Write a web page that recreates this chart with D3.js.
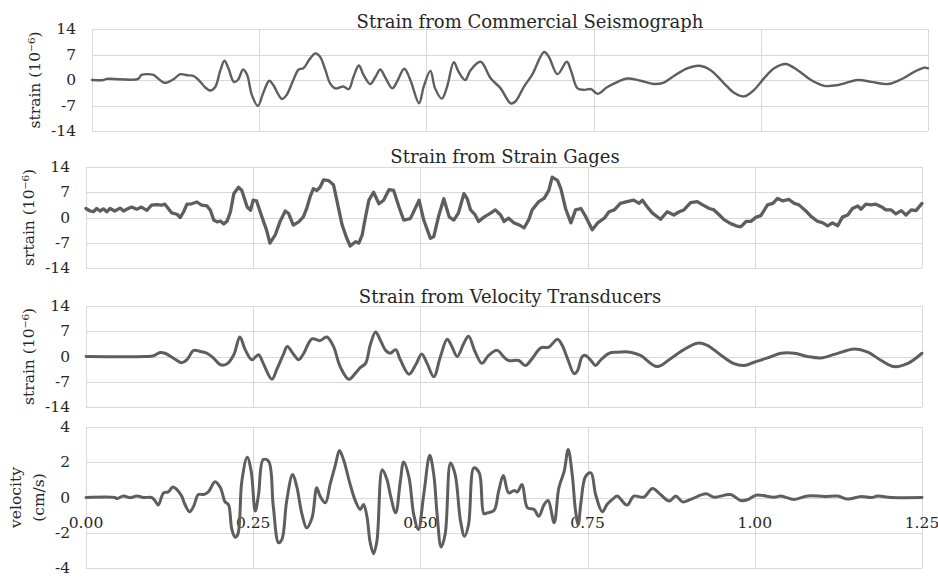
<!DOCTYPE html>
<html><head><meta charset="utf-8">
<script src="https://cdn.jsdelivr.net/npm/d3@7"></script>
<style>
body{margin:0;background:#fff;}
text{font-family:"DejaVu Serif","Liberation Serif",serif;fill:#262626;}
</style></head>
<body><svg id="c" width="938" height="578"></svg>
<script>
// ---- data: [time (s), value] ----
const titles = ["Strain from Commercial Seismograph","Strain from Strain Gages","Strain from Velocity Transducers",""];
const yTitles = [["strain (10\u207B\u2076)"],["srtain (10\u207B\u2076)"],["strain (10\u207B\u2076)"],["velocity","(cm/s)"]];
const strainTicks = [-14,-7,0,7,14];
const velTicks = [-4,-2,0,2,4];
const timeTicks = [0,0.25,0.5,0.75,1.0,1.25];

const seis = [[0,0],[0.017,0],[0.022,0.3],[0.069,0.3],[0.074,1.4],[0.092,1.4],[0.097,0.7],[0.107,-0.7],[0.112,-0.7],[0.122,0.2],[0.132,1.6],[0.142,1.3],[0.152,1.1],[0.162,-0.5],[0.169,-2.0],[0.177,-2.9],[0.184,-2.0],[0.192,2.7],[0.198,5.3],[0.204,3.2],[0.212,-0.5],[0.218,0],[0.226,2.9],[0.232,1.4],[0.239,-4.1],[0.248,-7.1],[0.256,-3.6],[0.265,-0.2],[0.271,-1.4],[0.284,-5.2],[0.291,-4.1],[0.301,0],[0.309,2.9],[0.316,3.2],[0.325,5.6],[0.334,7.3],[0.341,6.4],[0.349,2.7],[0.356,-0.9],[0.364,-2.3],[0.371,-2.0],[0.376,-1.8],[0.384,-2.5],[0.391,0.9],[0.399,4.0],[0.406,1.4],[0.416,-1.1],[0.424,0.9],[0.431,2.9],[0.439,0.5],[0.449,-2.3],[0.456,-0.5],[0.467,3.1],[0.476,0],[0.489,-6.4],[0.496,-1.8],[0.506,2.5],[0.513,-2.3],[0.523,-5.1],[0.531,-1.8],[0.541,4.9],[0.548,2.3],[0.558,0],[0.566,2.7],[0.581,5.0],[0.596,0.5],[0.611,-2.3],[0.626,-6.4],[0.633,-5.9],[0.646,-1.8],[0.658,1.4],[0.676,7.7],[0.683,6.4],[0.696,1.6],[0.710,5.0],[0.716,2.7],[0.726,-2.3],[0.736,-2.7],[0.746,-2.5],[0.756,-3.8],[0.770,-2.0],[0.786,-0.5],[0.800,0.4],[0.820,-0.2],[0.840,-1.1],[0.855,-0.7],[0.870,1.1],[0.890,3.2],[0.908,3.9],[0.925,2.7],[0.945,-0.9],[0.960,-3.5],[0.975,-4.5],[0.990,-2.7],[1.005,0.5],[1.020,3.2],[1.037,4.4],[1.055,2.7],[1.075,0],[1.095,-1.6],[1.115,-1.4],[1.145,0],[1.165,-0.5],[1.190,-1.1],[1.210,0.2],[1.230,2.3],[1.245,3.4],[1.25,3.2]];

const gage = [[0,2.5],[0.006,1.8],[0.011,1.6],[0.016,2.5],[0.021,1.8],[0.026,2.4],[0.031,1.6],[0.036,2.5],[0.043,1.8],[0.051,2.6],[0.056,1.8],[0.061,2.3],[0.068,2.9],[0.076,2.3],[0.083,2.9],[0.091,2.0],[0.098,3.4],[0.106,3.6],[0.113,3.4],[0.118,3.7],[0.123,2.5],[0.128,1.3],[0.136,0.9],[0.141,0],[0.146,1.6],[0.151,3.7],[0.158,3.8],[0.166,4.3],[0.173,3.4],[0.181,3.2],[0.186,2.0],[0.191,-0.7],[0.196,-1.2],[0.201,-1.0],[0.206,-1.8],[0.211,-1.0],[0.216,1.6],[0.221,6.6],[0.228,8.4],[0.233,7.5],[0.241,2.9],[0.246,2.0],[0.250,4.8],[0.255,4.6],[0.263,0.2],[0.270,-3.5],[0.275,-7.1],[0.283,-4.8],[0.290,-1.2],[0.298,1.8],[0.303,1.1],[0.310,-2.1],[0.318,-1.2],[0.325,0.2],[0.330,2.5],[0.335,5.7],[0.340,8.0],[0.345,7.5],[0.350,8.4],[0.355,10.4],[0.363,10.2],[0.370,9.1],[0.375,4.8],[0.383,-2.1],[0.390,-5.8],[0.395,-7.9],[0.403,-6.7],[0.408,-7.1],[0.413,-4.8],[0.418,0.2],[0.423,4.8],[0.430,7.0],[0.438,3.8],[0.445,4.8],[0.453,7.7],[0.460,7.5],[0.468,2.9],[0.475,-0.7],[0.485,-0.3],[0.498,4.8],[0.505,-0.7],[0.515,-5.8],[0.520,-5.3],[0.527,0.2],[0.535,5.2],[0.543,0.2],[0.550,-0.7],[0.557,1.3],[0.565,6.6],[0.570,5.2],[0.575,2.1],[0.582,0.7],[0.587,-1.1],[0.595,0.1],[0.605,1.2],[0.612,2.1],[0.620,0.7],[0.625,-1.1],[0.632,-0.2],[0.640,-1.5],[0.647,-2.0],[0.655,-2.9],[0.662,-0.6],[0.667,2.1],[0.677,4.4],[0.685,5.3],[0.692,7.5],[0.697,11.2],[0.705,10.3],[0.710,8.0],[0.717,2.5],[0.725,-1.5],[0.732,2.1],[0.740,2.5],[0.747,0.3],[0.757,-3.4],[0.765,-1.5],[0.775,-0.2],[0.782,1.6],[0.790,2.1],[0.799,3.9],[0.809,4.4],[0.819,4.8],[0.827,3.9],[0.832,4.8],[0.839,3.0],[0.847,1.2],[0.859,-0.5],[0.869,1.6],[0.879,0.7],[0.887,1.6],[0.894,2.1],[0.904,4.1],[0.914,4.4],[0.922,3.5],[0.932,2.5],[0.939,2.1],[0.947,0.7],[0.954,-0.6],[0.964,-1.7],[0.972,-2.3],[0.979,-2.6],[0.987,-1.1],[0.994,-1.1],[1.002,0.1],[1.009,0.5],[1.019,3.5],[1.027,3.9],[1.034,5.3],[1.042,4.6],[1.051,5.0],[1.059,3.9],[1.066,3.5],[1.076,1.9],[1.084,0.3],[1.094,-1.1],[1.101,-1.4],[1.109,-2.3],[1.116,-1.5],[1.124,-2.3],[1.131,0.1],[1.139,0.7],[1.146,2.5],[1.154,3.2],[1.159,2.3],[1.166,3.7],[1.174,3.5],[1.181,3.7],[1.189,3.0],[1.196,2.1],[1.204,2.1],[1.211,1.0],[1.219,1.9],[1.226,0.7],[1.234,2.1],[1.241,1.9],[1.25,3.9]];

const vtStrain = [[0,0],[0.088,0],[0.101,0.2],[0.111,1.1],[0.118,0.9],[0.131,-0.5],[0.143,-1.7],[0.151,-0.9],[0.161,1.7],[0.171,1.4],[0.181,0.9],[0.191,-0.5],[0.201,-2.3],[0.211,-2.0],[0.221,0.5],[0.230,5.4],[0.238,1.9],[0.248,-0.9],[0.258,0.5],[0.265,-1.9],[0.278,-6.3],[0.285,-3.7],[0.295,0.5],[0.301,2.8],[0.310,0.7],[0.318,-0.9],[0.325,0.7],[0.338,4.9],[0.350,4.4],[0.360,5.4],[0.370,2.8],[0.380,-2.8],[0.393,-6.3],[0.403,-4.6],[0.410,-3.1],[0.418,-1.9],[0.425,3.2],[0.433,6.8],[0.440,4.6],[0.448,1.7],[0.455,0.9],[0.463,1.9],[0.470,-0.9],[0.483,-4.9],[0.493,-2.3],[0.502,0.7],[0.510,-1.9],[0.520,-5.6],[0.530,0],[0.540,4.8],[0.547,2.8],[0.555,0],[0.565,3.7],[0.572,5.6],[0.582,1.2],[0.592,-1.9],[0.602,0.3],[0.615,1.7],[0.625,-0.2],[0.632,-1.1],[0.647,-1.1],[0.657,-2.5],[0.667,-0.6],[0.680,2.4],[0.692,2.6],[0.705,4.8],[0.712,3.1],[0.720,-0.6],[0.730,-4.8],[0.735,-3.9],[0.742,0],[0.747,0.3],[0.755,-1.1],[0.762,-2.5],[0.769,-1.1],[0.782,0.9],[0.794,1.2],[0.814,1.2],[0.829,0.3],[0.854,-2.8],[0.874,-0.6],[0.892,1.7],[0.914,3.7],[0.929,3.1],[0.947,0.7],[0.969,-2.0],[0.984,-2.5],[0.999,-1.6],[1.019,-0.4],[1.039,0.9],[1.059,0.9],[1.079,0],[1.099,-0.4],[1.119,0.6],[1.149,2.1],[1.169,1.2],[1.189,-1.1],[1.208,-2.8],[1.228,-2.0],[1.25,0.9]];

const velocity = [[0,0],[0.043,0],[0.046,-0.06],[0.056,0.08],[0.066,-0.02],[0.076,0.08],[0.086,0],[0.098,0],[0.103,-0.17],[0.108,-0.43],[0.116,0.26],[0.123,0.32],[0.130,0.6],[0.136,0.45],[0.143,0.08],[0.148,-0.4],[0.155,-0.81],[0.161,-0.49],[0.168,0.17],[0.176,0.17],[0.183,0.32],[0.193,0.89],[0.201,0.55],[0.208,-0.25],[0.213,-0.4],[0.218,-1.8],[0.223,-2.25],[0.227,-2.09],[0.233,0.92],[0.241,2.28],[0.247,1.49],[0.253,-0.77],[0.258,0.17],[0.265,2.15],[0.273,2.06],[0.280,-0.49],[0.288,-2.57],[0.293,-2.38],[0.300,-0.21],[0.309,1.3],[0.315,0.64],[0.323,-0.96],[0.330,-1.72],[0.338,-1.15],[0.345,0.55],[0.350,0.08],[0.358,-0.3],[0.365,0.74],[0.373,1.87],[0.379,2.66],[0.385,2.15],[0.395,0.74],[0.403,-0.21],[0.410,-0.68],[0.415,-0.4],[0.420,-1.06],[0.425,-2.57],[0.430,-3.19],[0.435,-2.47],[0.443,1.58],[0.450,1.02],[0.455,0.17],[0.463,-0.87],[0.470,0.92],[0.475,2.02],[0.483,1.13],[0.490,-0.96],[0.497,-1.81],[0.505,0.17],[0.514,2.4],[0.520,1.3],[0.525,-0.96],[0.531,-2.81],[0.537,-2.09],[0.545,1.96],[0.552,1.3],[0.560,-1.34],[0.566,-2.2],[0.572,-1.53],[0.580,1.68],[0.588,1.4],[0.595,-0.92],[0.600,-0.87],[0.610,-0.74],[0.617,0.36],[0.624,1.25],[0.632,0.26],[0.640,0.4],[0.645,0.32],[0.652,0.74],[0.660,-0.58],[0.670,-0.68],[0.677,-1.06],[0.685,-0.4],[0.691,-0.17],[0.700,-1.43],[0.707,0.55],[0.715,1.49],[0.721,2.72],[0.727,1.3],[0.732,-0.77],[0.736,-1.53],[0.740,-0.3],[0.747,1.2],[0.755,1.4],[0.762,0.17],[0.772,-0.81],[0.779,-0.4],[0.787,-0.11],[0.794,0.08],[0.809,-0.43],[0.819,0.08],[0.834,0.02],[0.847,0.51],[0.859,0.17],[0.872,-0.2],[0.882,0.08],[0.892,-0.25],[0.904,-0.11],[0.927,0.21],[0.939,0.02],[0.964,0.17],[0.979,-0.17],[0.989,-0.13],[1.002,0.13],[1.029,0.02],[1.039,0.08],[1.059,-0.11],[1.079,0.09],[1.104,0.06],[1.124,0.08],[1.139,-0.09],[1.159,0.06],[1.174,0],[1.184,0.08],[1.204,0],[1.25,0]];

// ---- layout ----
const panels = [
  {data:seis, left:92, right:928, top:29, bottom:131, dom:[-14,14], ticks:strainTicks, curve:d3.curveCatmullRom.alpha(0.5), lw:2.4, titleX:530, titleY:28, yt:35},
  {data:gage, left:86, right:922, top:167, bottom:268, dom:[-14,14], ticks:strainTicks, curve:d3.curveLinear, lw:3.3, titleX:505, titleY:163, yt:29},
  {data:vtStrain, left:86, right:922, top:306, bottom:407, dom:[-14,14], ticks:strainTicks, curve:d3.curveCatmullRom.alpha(0.5), lw:3, titleX:510, titleY:303, yt:29},
  {data:velocity, left:86, right:922, top:427, bottom:568, dom:[-4,4], ticks:velTicks, curve:d3.curveCatmullRom.alpha(0.5), lw:3, titleX:510, titleY:0, yt:16}
];

const svg = d3.select("#c");
const grid = "#d9d9d9", lineCol = "#5e5e5e";

panels.forEach((p,i)=>{
  const x = d3.scaleLinear().domain([0,1.25]).range([p.left,p.right]);
  const y = d3.scaleLinear().domain(p.dom).range([p.bottom,p.top]);
  const g = svg.append("g");
  g.selectAll("line.h").data(p.ticks).join("line")
    .attr("x1",p.left).attr("x2",p.right)
    .attr("y1",d=>Math.round(y(d))+0.5).attr("y2",d=>Math.round(y(d))+0.5)
    .attr("stroke",grid).attr("stroke-width",1);
  g.selectAll("line.v").data(timeTicks).join("line")
    .attr("x1",d=>Math.round(x(d))+0.5).attr("x2",d=>Math.round(x(d))+0.5)
    .attr("y1",p.top).attr("y2",p.bottom)
    .attr("stroke",grid).attr("stroke-width",1);
  g.selectAll("text.yt").data(p.ticks).join("text")
    .attr("x",p.left-16).attr("y",d=>y(d))
    .attr("text-anchor","end").attr("dominant-baseline","central")
    .style("font-size","15.5px").text(d=>d);
  if(titles[i]) g.append("text").attr("x",p.titleX).attr("y",p.titleY)
    .attr("text-anchor","middle").style("font-size","18px").text(titles[i]);
  const yc = (p.top+p.bottom)/2;
  yTitles[i].forEach((t,k)=>{
    const xx = p.yt + k*23;
    g.append("text").attr("transform",`translate(${xx},${yc}) rotate(-90)`)
      .attr("text-anchor","middle").attr("dominant-baseline","central")
      .style("font-size","15.5px").text(t);
  });
  if(i===3){
    g.selectAll("text.xt").data(timeTicks).join("text")
      .attr("x",d=>x(d)).attr("y",y(0)+30)
      .attr("text-anchor","middle").style("font-size","15.5px")
      .text(d=>d3.format(".2f")(d));
  }
  const line = d3.line().x(d=>x(d[0])).y(d=>y(d[1])).curve(p.curve);
  g.append("path").datum(p.data).attr("d",line)
    .attr("fill","none").attr("stroke",lineCol).attr("stroke-width",p.lw)
    .attr("stroke-linejoin","round").attr("stroke-linecap","round");
});
</script></body></html>
